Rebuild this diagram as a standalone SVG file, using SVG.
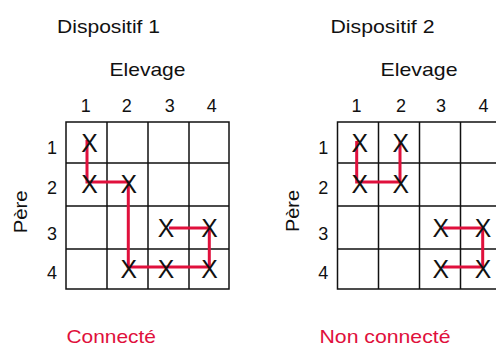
<svg xmlns="http://www.w3.org/2000/svg" width="496" height="347" viewBox="0 0 496 347">
<style>
text{font-family:"Liberation Sans",Arial,sans-serif;fill:#111}
.t{font-size:19px}
.n{font-size:18px;text-anchor:middle}
.x{font-size:26px;text-anchor:middle}
.red{fill:#e0103c}
.grid{fill:none;stroke:#111;stroke-width:1.5}
.link{fill:none;stroke:#e0103c;stroke-width:3;stroke-linejoin:miter}
</style>
<rect width="496" height="347" fill="#fff"/>

<g id="panel1">
  <text class="t" x="57" y="33.3" textLength="103" lengthAdjust="spacingAndGlyphs">Dispositif 1</text>
  <text class="t" x="109.5" y="76" textLength="76" lengthAdjust="spacingAndGlyphs">Elevage</text>
  <text class="t" transform="translate(26.7,233.3) rotate(-90)" textLength="43" lengthAdjust="spacingAndGlyphs">Père</text>
  <g id="cols1">
    <text class="n" x="85.7" y="111.7">1</text>
    <text class="n" x="126.7" y="111.7">2</text>
    <text class="n" x="169.7" y="111.7">3</text>
    <text class="n" x="211.7" y="111.7">4</text>
  </g>
  <g id="rows1">
    <text class="n" x="52" y="154">1</text>
    <text class="n" x="52" y="194">2</text>
    <text class="n" x="52" y="240">3</text>
    <text class="n" x="52" y="279.3">4</text>
  </g>
  <g id="grid1" class="grid">
    <rect x="66" y="122" width="163" height="167"/>
    <path d="M107,122V289M148,122V289M189,122V289M66,163H229M66,206H229M66,249H229"/>
  </g>
  <text class="t red" x="66.5" y="342.8" textLength="89.5" lengthAdjust="spacingAndGlyphs">Connecté</text>
</g>

<g id="panel2">
  <text class="t" x="330.5" y="33.3" textLength="104" lengthAdjust="spacingAndGlyphs">Dispositif 2</text>
  <text class="t" x="380.5" y="76" textLength="77" lengthAdjust="spacingAndGlyphs">Elevage</text>
  <text class="t" transform="translate(299.3,232) rotate(-90)" textLength="42" lengthAdjust="spacingAndGlyphs">Père</text>
  <g id="cols2">
    <text class="n" x="356.5" y="111.7">1</text>
    <text class="n" x="401" y="111.7">2</text>
    <text class="n" x="441" y="111.7">3</text>
    <text class="n" x="483.5" y="111.7">4</text>
  </g>
  <g id="rows2">
    <text class="n" x="323.3" y="154">1</text>
    <text class="n" x="323.3" y="194">2</text>
    <text class="n" x="323.3" y="240">3</text>
    <text class="n" x="323.3" y="279.3">4</text>
  </g>
  <g id="grid2" class="grid">
    <rect x="337.5" y="122" width="164" height="167"/>
    <path d="M378.5,122V289M419.5,122V289M460.5,122V289M337.5,163H501.5M337.5,206H501.5M337.5,249H501.5"/>
  </g>
  <text class="t red" x="319.5" y="342.8" textLength="131" lengthAdjust="spacingAndGlyphs">Non connecté</text>
</g>

<g id="connectors">
  <polyline class="link" points="87,140 87,182 128.3,182 128.3,267 209.3,267 209.3,228 169,228"/>
  <polyline class="link" points="356.7,141 356.7,182 400,182 400,141"/>
  <polyline class="link" points="442.7,228 482.7,228 482.7,267 442.7,267"/>
</g>

<g id="marks1">
  <g id="m1-11"><text class="x" x="89.5" y="151.7" textLength="16.5" lengthAdjust="spacingAndGlyphs">X</text></g>
  <g id="m1-21"><text class="x" x="89.5" y="192.7" textLength="16.5" lengthAdjust="spacingAndGlyphs">X</text></g>
  <g id="m1-22"><text class="x" x="128.7" y="192.7" textLength="16.5" lengthAdjust="spacingAndGlyphs">X</text></g>
  <g id="m1-33"><text class="x" x="166" y="237.3" textLength="16.5" lengthAdjust="spacingAndGlyphs">X</text></g>
  <g id="m1-34"><text class="x" x="209.5" y="237.3" textLength="16.5" lengthAdjust="spacingAndGlyphs">X</text></g>
  <g id="m1-42"><text class="x" x="128.7" y="278.3" textLength="16.5" lengthAdjust="spacingAndGlyphs">X</text></g>
  <g id="m1-43"><text class="x" x="166" y="278.3" textLength="16.5" lengthAdjust="spacingAndGlyphs">X</text></g>
  <g id="m1-44"><text class="x" x="209.5" y="278.3" textLength="16.5" lengthAdjust="spacingAndGlyphs">X</text></g>
</g>
<g id="marks2">
  <g id="m2-11"><text class="x" x="359.8" y="151.7" textLength="16.5" lengthAdjust="spacingAndGlyphs">X</text></g>
  <g id="m2-12"><text class="x" x="400.7" y="151.7" textLength="16.5" lengthAdjust="spacingAndGlyphs">X</text></g>
  <g id="m2-21"><text class="x" x="359.8" y="192.7" textLength="16.5" lengthAdjust="spacingAndGlyphs">X</text></g>
  <g id="m2-22"><text class="x" x="400.7" y="192.7" textLength="16.5" lengthAdjust="spacingAndGlyphs">X</text></g>
  <g id="m2-33"><text class="x" x="440.7" y="237.3" textLength="16.5" lengthAdjust="spacingAndGlyphs">X</text></g>
  <g id="m2-34"><text class="x" x="483" y="237.3" textLength="16.5" lengthAdjust="spacingAndGlyphs">X</text></g>
  <g id="m2-43"><text class="x" x="440.7" y="278.3" textLength="16.5" lengthAdjust="spacingAndGlyphs">X</text></g>
  <g id="m2-44"><text class="x" x="483" y="278.3" textLength="16.5" lengthAdjust="spacingAndGlyphs">X</text></g>
</g>
</svg>
